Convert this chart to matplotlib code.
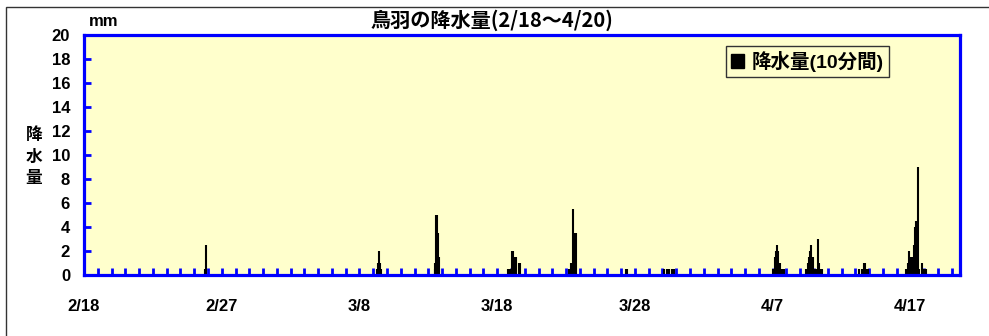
import matplotlib.pyplot as plt
from matplotlib.patches import Patch, Rectangle

plt.rcParams['font.family'] = ['Liberation Sans', 'Noto Sans CJK JP']
plt.rcParams['font.weight'] = 'bold'

# 10分間降水量 (2/18 0時からの経過日数, mm)
rain_day = [8.75, 8.86,
            21.30, 21.35, 21.42, 21.48, 21.55,
            25.45, 25.50, 25.55, 25.60, 25.68, 25.75, 25.80,
            30.75, 30.90, 31.05, 31.15, 31.30, 31.40, 31.55, 31.65,
            35.20, 35.35, 35.50, 35.60, 35.70,
            39.35, 39.45,
            42.10, 42.30, 42.50, 42.70, 42.80,
            50.05, 50.15, 50.25, 50.32, 50.40, 50.50, 50.60, 50.75, 50.85,
            52.45, 52.55, 52.65, 52.72, 52.80, 52.90, 53.00, 53.10, 53.20,
            53.30, 53.38, 53.50, 53.60,
            56.30, 56.45, 56.60, 56.70, 56.85, 56.95,
            59.70, 59.80, 59.88, 59.95, 60.05, 60.15, 60.25, 60.35, 60.42,
            60.50, 60.57, 60.65, 60.86, 61.00, 61.15]
rain_mm = [0.5, 2.5,
           0.5, 1.0, 2.0, 1.0, 0.5,
           0.5, 1.0, 5.0, 5.0, 3.5, 1.5, 0.5,
           0.5, 0.5, 2.0, 2.0, 1.5, 1.5, 1.0, 1.0,
           0.5, 1.0, 5.5, 3.5, 3.5,
           0.5, 0.5,
           0.5, 0.5, 0.5, 0.5, 0.5,
           0.5, 1.5, 2.0, 2.5, 2.0, 1.0, 0.5, 0.5, 0.5,
           0.5, 1.0, 1.5, 2.0, 2.5, 1.5, 0.5, 0.5, 0.5,
           3.0, 1.0, 0.5, 0.5,
           0.5, 0.5, 1.0, 1.0, 0.5, 0.5,
           0.5, 1.0, 2.0, 1.5, 1.5, 1.5, 2.5, 4.0, 4.5,
           4.5, 9.0, 0.5, 1.0, 0.5, 0.5]

date_pos = [0, 10, 20, 30, 40, 50, 60]
date_labels = ['2/18', '2/27', '3/8', '3/18', '3/28', '4/7', '4/17']

fig = plt.figure(figsize=(9.89, 3.36), dpi=100)
fig.patches.append(Rectangle((6 / 989, -0.2), 1.2, 1.2 - 7 / 336,
                             transform=fig.transFigure, fill=False,
                             edgecolor='#333333', lw=1))
ax = fig.add_axes([84 / 989, 61 / 336, 876 / 989, 240 / 336])
ax.set_facecolor('#FFFFCC')

ax.vlines(rain_day, 0, rain_mm, color='black', lw=1.5)

ax.set_xlim(0, 63.6)
ax.set_ylim(0, 20)
ax.set_yticks(range(0, 21, 2))
ax.set_xticks(date_pos, date_labels)
ax.set_xticks(range(0, 64), minor=True)
for s in ax.spines.values():
    s.set_color('blue')
    s.set_linewidth(2.3)
ax.tick_params(axis='y', direction='in', length=5, width=2, color='blue',
               labelsize=12, pad=10)
ax.tick_params(axis='x', which='both', direction='in', length=5, width=2,
               color='blue', labelsize=12, pad=17)

leg = ax.legend(handles=[Patch(color='black')], labels=['降水量(10分間)'],
                loc='upper right', bbox_to_anchor=(0.919, 0.955),
                borderaxespad=0, handlelength=0.7, handleheight=0.7,
                handletextpad=0.4, fancybox=False, framealpha=1, borderpad=0.25,
                prop={'size': 14, 'weight': 'bold'})
leg.get_frame().set_edgecolor('#333333')
leg.get_frame().set_facecolor('#FFFFCC')
leg.get_frame().set_linewidth(1)

fig.text(492 / 989, 1 - 20 / 336, '鳥羽の降水量(2/18～4/20)', ha='center', va='center',
         fontsize=14.5, family=['Noto Sans CJK JP'], weight='bold')
fig.text(89 / 989, 1 - 21 / 336, 'mm', ha='left', va='center', fontsize=12)
fig.text(34 / 989, 1 - 157 / 336, '降\n水\n量', ha='center', va='center',
         fontsize=12, linespacing=1.55)

fig.savefig('out.png', dpi=100)
